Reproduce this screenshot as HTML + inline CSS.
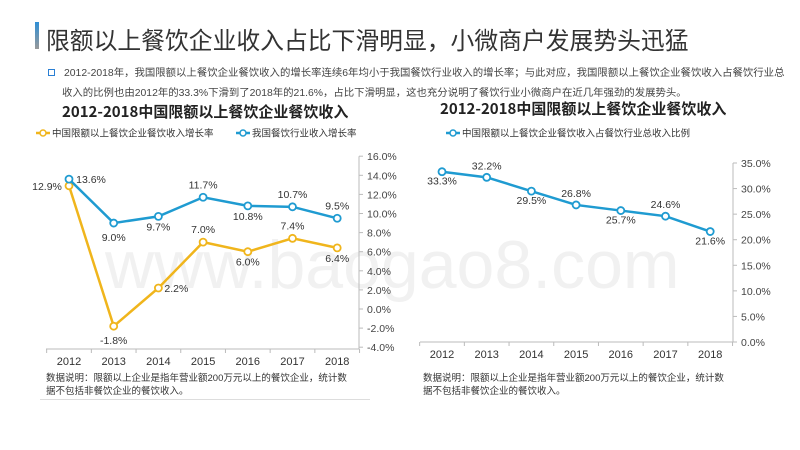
<!DOCTYPE html>
<html><head><meta charset="utf-8"><style>
body{margin:0;width:800px;height:450px;background:#fff;overflow:hidden;position:relative;font-family:"Liberation Sans","Noto Sans CJK SC",sans-serif;}
.abs{position:absolute;white-space:nowrap;}
</style></head><body>
<div class="abs" style="left:35px;top:22px;width:4px;height:27px;background:linear-gradient(#2e8fd6,#999);"></div>
<div class="abs" style="left:46px;top:21px;font-size:23.8px;color:#333;font-family:'Noto Sans CJK SC',sans-serif;">限额以上餐饮企业收入占比下滑明显，小微商户发展势头迅猛</div>
<div class="abs" style="left:48px;top:69px;width:5px;height:5px;border:1px solid #2a7fd4;"></div>
<div class="abs" style="left:64px;top:64px;font-size:10.4px;color:#444;">2012-2018年，我国限额以上餐饮企业餐饮收入的增长率连续6年均小于我国餐饮行业收入的增长率；与此对应，我国限额以上餐饮企业餐饮收入占餐饮行业总</div>
<div class="abs" style="left:62px;top:84px;font-size:10.4px;color:#444;">收入的比例也由2012年的33.3%下滑到了2018年的21.6%，占比下滑明显，这也充分说明了餐饮行业小微商户在近几年强劲的发展势头。</div>
<div class="abs" style="left:62px;top:101px;font-size:15px;font-weight:bold;color:#222;font-family:'Noto Sans CJK SC',sans-serif;">2012-2018中国限额以上餐饮企业餐饮收入</div>
<div class="abs" style="left:440px;top:98px;font-size:15px;font-weight:bold;color:#222;font-family:'Noto Sans CJK SC',sans-serif;">2012-2018中国限额以上餐饮企业餐饮收入</div>
<div class="abs" style="left:105px;top:226px;font-size:68px;color:#f1f1f1;font-family:'Liberation Sans',sans-serif;">www.baogao8.com</div>
<div class="abs" style="left:46px;top:372px;font-size:9.5px;color:#333;line-height:13px;">数据说明：限额以上企业是指年营业额200万元以上的餐饮企业，统计数<br>据不包括非餐饮企业的餐饮收入。</div>
<div class="abs" style="left:423px;top:372px;font-size:9.5px;color:#333;line-height:13px;">数据说明：限额以上企业是指年营业额200万元以上的餐饮企业，统计数<br>据不包括非餐饮企业的餐饮收入。</div>
<div class="abs" style="left:40px;top:399px;width:330px;height:1px;background:#ddd;"></div>
<svg id="svg" width="800" height="450" style="position:absolute;left:0;top:0" font-family="Liberation Sans, sans-serif"></svg>
<script>
const years=["2012","2013","2014","2015","2016","2017","2018"];
const limitGrowth=[12.9,-1.8,2.2,7.0,6.0,7.4,6.4];
const industryGrowth=[13.6,9.0,9.7,11.7,10.8,10.7,9.5];
const share=[33.3,32.2,29.5,26.8,25.7,24.6,21.6];
const leftTicks=[-4,-2,0,2,4,6,8,10,12,14,16];
const rightTicks=[0,5,10,15,20,25,30,35];
const NS="http://www.w3.org/2000/svg";
const svg=document.getElementById('svg');
function mk(t,a,txt){const e=document.createElementNS(NS,t);for(const k in a)e.setAttribute(k,a[k]);if(txt!==undefined)e.textContent=txt;svg.appendChild(e);return e;}
const lx=i=>69+i*44.7, ly=v=>309-v*9.55;
const rx=i=>442+i*44.7, ry=v=>342-v*5.114;
function axes(xf,yf,ticks,axX,x0,base,prefix){
  let e=mk('line',{x1:x0,y1:base,x2:axX,y2:base,stroke:'#bbb'});
  
  e=mk('line',{x1:axX,y1:yf(ticks[ticks.length-1]),x2:axX,y2:base,stroke:'#bbb'});
  
  ticks.forEach(t=>{mk('line',{x1:axX,y1:yf(t),x2:axX+4,y2:yf(t),stroke:'#bbb'});
    const tx=mk('text',{x:axX+8,y:yf(t)+4,'font-size':10.5,fill:'#444'},t.toFixed(1)+'%');
    });
  for(let i=0;i<=years.length;i++){const x=xf(i)-22.35;mk('line',{x1:x,y1:base,x2:x,y2:base+4,stroke:'#bbb'});}
  years.forEach((y,i)=>{const tx=mk('text',{x:xf(i),y:base+16,'font-size':11,fill:'#333','text-anchor':'middle'},y);
    });
}
axes(lx,ly,leftTicks,359,46,349,'left');
axes(rx,ry,rightTicks,733,420,342,'right');
function series(vals,xf,yf,color,name,offs){
  const p=mk('polyline',{points:vals.map((v,i)=>xf(i)+','+yf(v)).join(' '),fill:'none',stroke:color,'stroke-width':2.5});
  
  vals.forEach((v,i)=>{const c=mk('circle',{cx:xf(i),cy:yf(v),r:3.5,fill:'#fff',stroke:color,'stroke-width':1.8});
    
    const o=offs[i];const t=mk('text',{x:xf(i)+o[0],y:yf(v)+o[1],'font-size':10.5,fill:'#333','text-anchor':'middle'},v.toFixed(1)+'%');
    });
}
series(limitGrowth,lx,ly,'#f0b51c','limit-growth',[[-22,4],[0,18],[18,4],[0,-9],[0,14],[0,-9],[0,14]]);
series(industryGrowth,lx,ly,'#1f9bd1',"industry-growth",[[22,4],[0,18],[0,14],[0,-9],[0,14],[0,-9],[0,-9]]);
series(share,rx,ry,'#1f9bd1','share',[[0,13],[0,-8],[0,13],[0,-8],[0,13],[0,-8],[0,13]]);
function leg(x,y,color,label,name){
  mk('line',{x1:x,y1:y,x2:x+14,y2:y,stroke:color,'stroke-width':2.5});
  mk('circle',{cx:x+7,cy:y,r:3,fill:'#fff',stroke:color,'stroke-width':1.5});
  const t=mk('text',{x:x+16,y:y+3.5,'font-size':9.5,fill:'#333'},label);
  
}
leg(36,133,'#f0b51c','中国限额以上餐饮企业餐饮收入增长率','legend-limit-growth');
leg(236,133,'#1f9bd1','我国餐饮行业收入增长率','legend-industry-growth');
leg(446,133,'#1f9bd1','中国限额以上餐饮企业餐饮收入占餐饮行业总收入比例','legend-share');
</script>
</body></html>
